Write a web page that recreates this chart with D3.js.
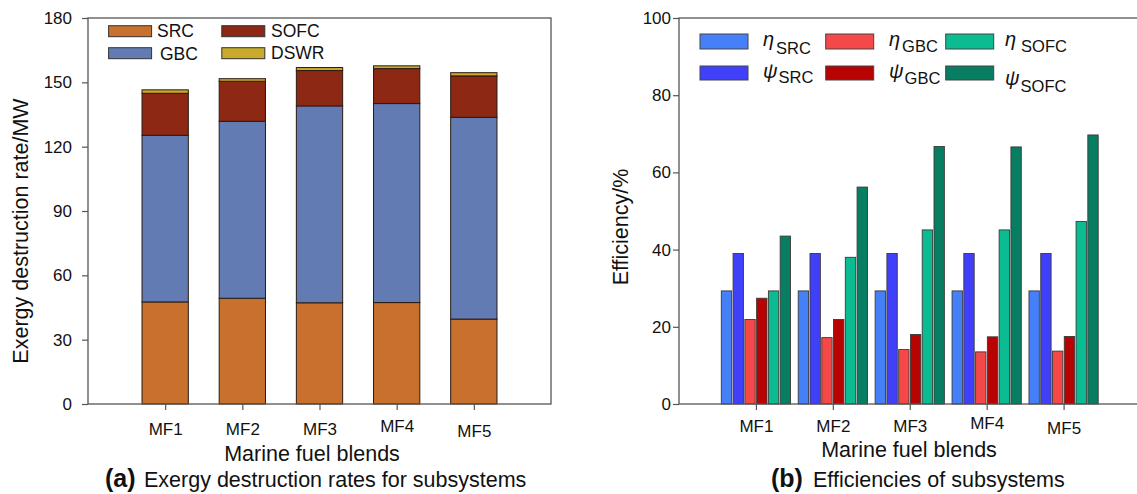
<!DOCTYPE html>
<html>
<head>
<meta charset="utf-8">
<script src="https://cdn.jsdelivr.net/npm/d3@7"></script>
<style>
  body { margin: 0; background: #fff; }
  text { font-family: "Liberation Sans", Arial, sans-serif; fill: #111; }
</style>
</head>
<body>
<div id="plot"></div>
<script>
// ---- data (a): exergy destruction, MW ----
const blends = ["MF1", "MF2", "MF3", "MF4", "MF5"];
const src  = [47.6, 49.3, 47.2, 47.3, 39.6];
const gbc  = [77.7, 82.5, 91.8, 92.8, 94.1];
const sofc = [19.6, 18.7, 16.5, 16.3, 19.3];
const dswr = [1.6, 1.2, 1.4, 1.3, 1.5];
const yTicksA = [0, 30, 60, 90, 120, 150, 180];

// ---- data (b): efficiencies, % ----
const etaSRC  = [29.3, 29.3, 29.3, 29.3, 29.3];
const psiSRC  = [39.0, 39.0, 39.0, 39.0, 39.0];
const etaGBC  = [21.9, 17.2, 14.1, 13.5, 13.7];
const psiGBC  = [27.4, 21.9, 18.0, 17.4, 17.5];
const etaSOFC = [29.3, 38.0, 45.1, 45.1, 47.3];
const psiSOFC = [43.5, 56.2, 66.7, 66.6, 69.7];
const yTicksB = [0, 20, 40, 60, 80, 100];

const stackKeys = ["SRC", "GBC", "SOFC", "DSWR"];
const stackColors = {SRC: "#c8702e", GBC: "#637bb3", SOFC: "#8c2814", DSWR: "#c9aa2a"};

const effKeys = ["etaSRC", "psiSRC", "etaGBC", "psiGBC", "etaSOFC", "psiSOFC"];
const effColors = {etaSRC: "#4580f8", psiSRC: "#4040fa", etaGBC: "#f54848",
                   psiGBC: "#b80303", etaSOFC: "#0bbb91", psiSOFC: "#077e62"};

const rowsA = blends.map((b, i) => ({blend: b, SRC: src[i], GBC: gbc[i], SOFC: sofc[i], DSWR: dswr[i]}));
const rowsB = blends.map((b, i) => ({blend: b, etaSRC: etaSRC[i], psiSRC: psiSRC[i], etaGBC: etaGBC[i],
                                     psiGBC: psiGBC[i], etaSOFC: etaSOFC[i], psiSOFC: psiSOFC[i]}));

const svg = d3.select("#plot").append("svg")
  .attr("width", 1137)
  .attr("height", 494);

const plotTop = 18, plotBottom = 404;
const frameColor = "#555";
// small vertical nudges of category labels as seen in the figure
const labelNudge = {MF4: -3, MF5: 2};

function styleAxis(g, fontSize) {
  g.select(".domain").remove();
  g.selectAll(".tick line").attr("stroke", frameColor).attr("stroke-width", 1.2);
  g.selectAll(".tick text").attr("font-size", fontSize).attr("fill", "#111")
    .attr("font-family", "'Liberation Sans', Arial, sans-serif");
}

// =================== (a) stacked bars ===================
const leftA = 88, rightA = 551;
const xA = d3.scalePoint().domain(blends).range([leftA, rightA]).padding(1);
const yA = d3.scaleLinear().domain([0, 180]).range([plotBottom, plotTop]);
const barW = xA.step() * 0.6;

const gA = svg.append("g");
const stacked = d3.stack().keys(stackKeys)(rowsA);

gA.selectAll(".layer")
  .data(stacked)
  .enter().append("g")
  .attr("class", "layer")
  .attr("fill", d => stackColors[d.key])
  .selectAll("rect")
  .data(d => d)
  .enter().append("rect")
  .attr("x", d => xA(d.data.blend) - barW / 2)
  .attr("y", d => yA(d[1]))
  .attr("width", barW)
  .attr("height", d => yA(d[0]) - yA(d[1]))
  .attr("stroke", "#2a1a12")
  .attr("stroke-width", 1);

gA.append("rect")
  .attr("x", leftA).attr("y", plotTop)
  .attr("width", rightA - leftA).attr("height", plotBottom - plotTop)
  .attr("fill", "none").attr("stroke", frameColor).attr("stroke-width", 1.3);

gA.append("g")
  .attr("transform", `translate(${leftA},0)`)
  .call(d3.axisLeft(yA).tickValues(yTicksA).tickSize(6).tickPadding(10))
  .call(g => styleAxis(g, 17));

gA.append("g")
  .attr("transform", `translate(0,${plotBottom})`)
  .call(d3.axisBottom(xA).tickSize(6).tickPadding(13))
  .call(g => styleAxis(g, 17))
  .call(g => g.selectAll(".tick text").attr("y", d => 19 + (labelNudge[d] || 0)));

gA.append("text")
  .attr("transform", "translate(28,231) rotate(-90)")
  .attr("text-anchor", "middle")
  .attr("font-size", 21.5)
  .text("Exergy destruction rate/MW");

gA.append("text")
  .attr("x", 312).attr("y", 461)
  .attr("text-anchor", "middle")
  .attr("font-size", 21.5)
  .text("Marine fuel blends");

const capA = gA.append("text").attr("x", 105).attr("y", 487).attr("font-size", 21.5);
capA.append("tspan").attr("font-weight", "bold").attr("font-size", 25).text("(a)");
capA.append("tspan").attr("x", 144).text("Exergy destruction rates for subsystems");

// legend (a)
const legA = [
  {key: "SRC",  sx: 108.6, sy: 25.7, tx: 157, ty: 37},
  {key: "SOFC", sx: 221.8, sy: 25.7, tx: 271, ty: 37},
  {key: "GBC",  sx: 108.6, sy: 47.7, tx: 160, ty: 60},
  {key: "DSWR", sx: 221.8, sy: 47.7, tx: 271, ty: 59}
];
gA.selectAll(".legA-box")
  .data(legA)
  .enter().append("rect")
  .attr("class", "legA-box")
  .attr("x", d => d.sx).attr("y", d => d.sy)
  .attr("width", 43).attr("height", 11)
  .attr("fill", d => stackColors[d.key])
  .attr("stroke", "#333").attr("stroke-width", 1);
gA.selectAll(".legA-text")
  .data(legA)
  .enter().append("text")
  .attr("class", "legA-text")
  .attr("x", d => d.tx).attr("y", d => d.ty)
  .attr("font-size", 17.5)
  .text(d => d.key);

// =================== (b) grouped bars ===================
const leftB = 679, rightB = 1140.5;
const xB = d3.scalePoint().domain(blends).range([leftB, rightB]).padding(1);
const yB = d3.scaleLinear().domain([0, 100]).range([plotBottom, plotTop]);
const groupW = xB.step() * 0.9;
const xInner = d3.scaleBand().domain(effKeys).range([-groupW / 2, groupW / 2]).paddingInner(0.12);

const gB = svg.append("g");

gB.selectAll(".grp")
  .data(rowsB)
  .enter().append("g")
  .attr("class", "grp")
  .attr("transform", d => `translate(${xB(d.blend)},0)`)
  .selectAll("rect")
  .data(d => effKeys.map(k => ({key: k, value: d[k]})))
  .enter().append("rect")
  .attr("x", d => xInner(d.key))
  .attr("y", d => yB(d.value))
  .attr("width", xInner.bandwidth())
  .attr("height", d => plotBottom - yB(d.value))
  .attr("fill", d => effColors[d.key])
  .attr("stroke", "#3a3a3a")
  .attr("stroke-width", 0.9);

gB.append("rect")
  .attr("x", leftB).attr("y", plotTop)
  .attr("width", rightB - leftB).attr("height", plotBottom - plotTop)
  .attr("fill", "none").attr("stroke", frameColor).attr("stroke-width", 1.3);

gB.append("g")
  .attr("transform", `translate(${leftB},0)`)
  .call(d3.axisLeft(yB).tickValues(yTicksB).tickSize(6).tickPadding(2))
  .call(g => styleAxis(g, 17));

gB.append("g")
  .attr("transform", `translate(0,${plotBottom})`)
  .call(d3.axisBottom(xB).tickSize(6).tickPadding(11))
  .call(g => styleAxis(g, 17))
  .call(g => g.selectAll(".tick text").attr("y", d => 16 + (labelNudge[d] || 0)));

gB.append("text")
  .attr("transform", "translate(628,227) rotate(-90)")
  .attr("text-anchor", "middle")
  .attr("font-size", 21.5)
  .text("Efficiency/%");

gB.append("text")
  .attr("x", 909).attr("y", 457)
  .attr("text-anchor", "middle")
  .attr("font-size", 21.5)
  .text("Marine fuel blends");

const capB = gB.append("text").attr("x", 771).attr("y", 487).attr("font-size", 21.5);
capB.append("tspan").attr("font-weight", "bold").attr("font-size", 25).text("(b)");
capB.append("tspan").attr("x", 813).text("Efficiencies of subsystems");

// legend (b)
const legB = [
  {key: "etaSRC",  sym: "\u03b7", sub: "SRC",  sx: 700,   sy: 34, h: 15, tx: 763, ty: 46, sdx: 2, sdy: 8},
  {key: "etaGBC",  sym: "\u03b7", sub: "GBC",  sx: 825.7, sy: 34, h: 15, tx: 889, ty: 46, sdx: 2, sdy: 6},
  {key: "etaSOFC", sym: "\u03b7", sub: "SOFC", sx: 945.7, sy: 34, h: 15, tx: 1005, ty: 46, sdx: 5, sdy: 6},
  {key: "psiSRC",  sym: "\u03c8", sub: "SRC",  sx: 700,   sy: 66, h: 14, tx: 763, ty: 78, sdx: 1, sdy: 5},
  {key: "psiGBC",  sym: "\u03c8", sub: "GBC",  sx: 825.7, sy: 66, h: 14, tx: 889, ty: 78, sdx: 1, sdy: 6},
  {key: "psiSOFC", sym: "\u03c8", sub: "SOFC", sx: 945.7, sy: 66, h: 14, tx: 1005, ty: 85, sdx: 1, sdy: 7}
];
gB.selectAll(".legB-box")
  .data(legB)
  .enter().append("rect")
  .attr("class", "legB-box")
  .attr("x", d => d.sx).attr("y", d => d.sy)
  .attr("width", 48).attr("height", d => d.h)
  .attr("fill", d => effColors[d.key])
  .attr("stroke", "#444").attr("stroke-width", 1);

const legText = gB.selectAll(".legB-text")
  .data(legB)
  .enter().append("text")
  .attr("class", "legB-text")
  .attr("x", d => d.tx).attr("y", d => d.ty);
legText.append("tspan")
  .attr("font-style", "italic")
  .attr("font-size", 20)
  .text(d => d.sym);
legText.append("tspan")
  .attr("dx", d => d.sdx).attr("dy", d => d.sdy)
  .attr("font-size", 16.5)
  .text(d => d.sub);
</script>
</body>
</html>
